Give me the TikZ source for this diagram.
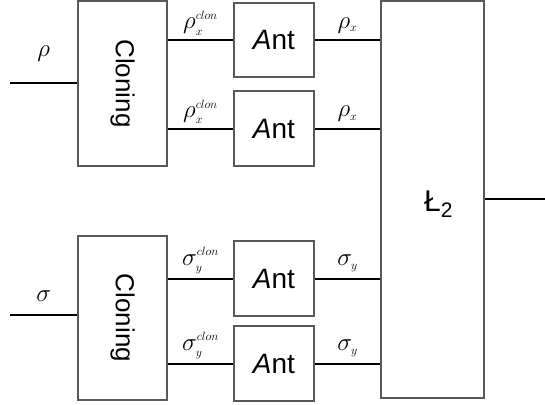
\documentclass[tikz,border=0pt]{standalone}
\usepackage{fontspec}
\setsansfont{Liberation Sans}
\DeclareMathSizes{22}{24.88}{12}{10}
\usetikzlibrary{calc}
\tikzset{
	blk/.style={draw=black!65, line width=1.1pt, fill=white, inner sep=0pt},
	wire/.style={line width=2pt},
	lbl/.style={font=\fontsize{22}{26}\selectfont, inner sep=1pt},
	boxtext/.style={font=\sffamily\fontsize{28}{32}\selectfont}
}

\begin{document}
\begin{tikzpicture}[x=1pt, y=-1pt]
				\useasboundingbox (0, 0) rectangle (545, 404);
				
				\node[blk, minimum width=89, minimum height=165] (clonRho) at (122.5, 83.5) {};
				\node[boxtext, font=\sffamily\fontsize{26}{30}\selectfont, rotate=-90] (txtRho) at (clonRho.center) {Cloning};
				\node[blk, minimum width=89, minimum height=164] (clonSigma) at (122.5, 318) {};
				\node[boxtext, font=\sffamily\fontsize{26}{30}\selectfont, rotate=-90] (txtSigma) at (clonSigma.center) {Cloning};
				
				\node[blk, boxtext, minimum width=80, minimum height=74] (antA) at (274, 40) {\textit{A}nt};
				\node[blk, boxtext, minimum width=80, minimum height=75] (antB) at (274, 128.5) {\textit{A}nt};
				\node[blk, boxtext, minimum width=80, minimum height=75] (antC) at (274, 278.5) {\textit{A}nt};
				\node[blk, boxtext, minimum width=80, minimum height=75] (antD) at (274, 363.5) {\textit{A}nt};
				
				\node[blk, minimum width=103, minimum height=397] (luk) at (432.5, 199.5) {};
				\node[boxtext, font=\sffamily\fontsize{30}{34}\selectfont] (lukTxt) at ([xshift=6pt, yshift=-5pt]luk.center) {Ł\textsubscript{2}};
				
				\coordinate (inRho) at (10, 83);
				\coordinate (inSigma) at (10, 315);
				\coordinate (out) at (545, 199);
				
				\draw[wire] (inRho) -- node[lbl, above=20pt] (lRho) {$\rho$} (inRho -| clonRho.west);
				\draw[wire] (inSigma) -- node[lbl, above=12pt] (lSigma) {$\sigma$} (inSigma -| clonSigma.west);
				
				\draw[wire] (antA.west -| clonRho.east) -- node[lbl, above=3pt] (lA) {$\rho_x^{clon}$} (antA.west);
				\draw[wire] (antB.west -| clonRho.east) -- node[lbl, above=3pt] (lB) {$\rho_x^{clon}$} (antB.west);
				\draw[wire] (antC.west -| clonSigma.east) -- node[lbl, above=3pt] (lC) {$\sigma_y^{clon}$} (antC.west);
				\draw[wire] (antD.west -| clonSigma.east) -- node[lbl, above=3pt] (lD) {$\sigma_y^{clon}$} (antD.west);
				
				\draw[wire] (antA.east) -- node[lbl, above=5pt] (oA) {$\rho_x$} (antA.east -| luk.west);
				\draw[wire] (antB.east) -- node[lbl, above=5pt] (oB) {$\rho_x$} (antB.east -| luk.west);
				\draw[wire] (antC.east) -- node[lbl, above=5pt] (oC) {$\sigma_y$} (antC.east -| luk.west);
				\draw[wire] (antD.east) -- node[lbl, above=5pt] (oD) {$\sigma_y$} (antD.east -| luk.west);
				
				\draw[wire] (out -| luk.east) -- (out);
			\end{tikzpicture}
\end{document}
